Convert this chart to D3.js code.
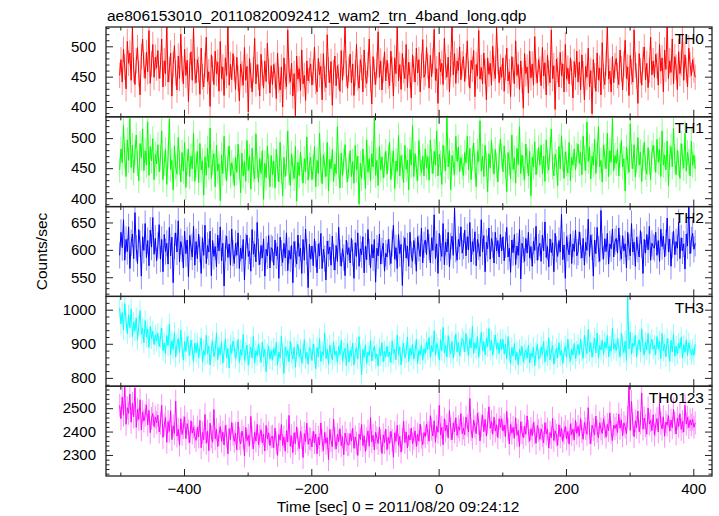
<!DOCTYPE html>
<html><head><meta charset="utf-8">
<script src="https://cdn.jsdelivr.net/npm/d3@7"></script>
<style>
body{margin:0;background:#fff}
svg{display:block}
text{font-family:"Liberation Sans",Arial,Helvetica,sans-serif;fill:#000}
.tick text{font-size:15px}
</style>
</head><body>
<svg id="c" width="719" height="516"></svg>
<script>
const title = "ae806153010_20110820092412_wam2_trn_4band_long.qdp";
const xLabel = "Time [sec] 0 = 2011/08/20 09:24:12";
const yLabel = "Counts/sec";
const bandNames = ["TH0", "TH1", "TH2", "TH3", "TH0123"];
const bandColors = ["#ff0000", "#00ff00", "#0000ff", "#00ffff", "#ff00ff"];
const timeStart = -501, timeStep = 2;
const errorSizes = [21, 21, 24, 30, 49];

const th0 = [
452,478,441,495,466,430,508,472,489,444,531,461,437,476,498,455,420,483,512,469,447,490,458,526,439,471,503,449,482,464,
493,447,468,512,433,476,455,539,441,462,489,418,470,501,456,428,484,447,520,463,438,495,452,477,409,468,491,444,530,459,
440,478,462,421,497,450,433,469,515,442,458,401,486,463,437,492,455,474,426,508,447,466,419,481,452,534,436,470,445,488,
463,429,482,447,410,471,455,436,498,444,467,392,480,452,425,461,513,438,470,449,418,487,456,431,476,442,505,459,423,468,
437,470,452,414,489,445,428,466,400,481,450,433,527,459,441,472,418,455,386,484,446,463,427,494,438,452,411,476,443,460,
471,436,458,499,442,425,480,453,467,412,488,446,432,519,461,440,475,403,457,484,435,468,450,426,493,444,472,537,455,431,
462,487,440,471,419,456,503,448,431,478,465,425,494,452,439,470,512,446,405,483,458,437,469,524,449,476,428,461,491,443,
477,451,435,492,462,418,481,455,536,443,470,429,488,460,447,503,432,474,452,415,486,463,441,497,456,478,425,468,511,449,
455,498,467,431,485,450,476,528,444,463,406,490,458,472,437,513,466,449,482,425,470,541,453,488,439,476,460,499,445,471,
483,442,468,509,455,431,477,462,493,417,470,451,526,446,465,438,489,459,412,481,454,472,436,500,463,447,531,475,440,466,
449,481,426,465,497,443,458,417,483,461,438,509,452,470,429,476,444,398,488,455,466,423,492,448,471,436,516,459,440,478,
462,435,498,451,473,420,485,456,440,527,447,468,396,479,461,433,490,452,471,425,503,446,464,438,481,457,415,475,449,492,
441,474,428,486,455,412,467,449,497,433,460,389,478,452,426,489,445,464,420,506,451,437,472,534,446,459,425,483,440,468,
480,452,437,494,463,428,471,510,447,466,419,485,458,441,527,469,451,406,488,460,436,478,499,445,472,432,461,515,453,476,
449,487,468,436,503,459,481,425,494,462,540,447,476,457,512,438,483,466,429,491,455,472,520,444,486,461,433,497,470,452,
478,461,449];

const th1 = [
447,482,459,521,470,436,497,463,533,451,488,442,476,505,458,429,491,467,515,446,479,455,527,438,486,462,499,431,473,457,
489,444,467,512,431,458,481,423,470,532,448,463,414,487,452,440,501,459,427,476,445,493,418,461,482,436,470,449,508,428,
455,478,426,491,447,462,405,469,438,483,451,517,433,460,474,419,488,445,457,396,472,441,503,452,429,466,487,437,459,446,
421,468,443,490,452,409,475,437,461,428,496,446,470,415,483,448,432,507,455,426,466,441,479,398,458,434,487,452,419,471,
439,462,417,481,450,427,493,445,404,468,436,459,512,443,421,474,451,433,486,395,460,438,477,449,425,466,444,502,430,455,
468,431,452,486,419,463,441,508,447,424,472,455,436,493,412,465,449,481,428,457,441,519,453,417,475,438,462,489,446,427,
454,479,436,461,425,488,447,470,390,458,433,482,451,416,497,443,466,429,474,452,533,438,463,421,486,447,469,434,455,478,
440,467,493,431,458,479,416,462,445,505,437,471,452,426,488,448,463,414,481,455,521,436,474,449,429,496,458,443,470,437,
482,451,469,430,497,462,441,478,455,512,437,473,459,423,488,466,446,535,452,479,414,471,458,439,503,461,485,444,468,452,
438,476,459,503,447,483,431,466,492,454,419,478,461,529,445,470,436,488,457,411,474,450,496,463,440,481,455,427,469,498,
470,444,487,453,411,476,459,432,505,448,467,425,483,456,519,441,472,450,431,490,462,437,478,404,468,452,494,439,461,484,
455,488,441,470,428,497,462,447,481,515,452,437,473,460,421,486,449,504,466,433,477,458,442,493,429,468,455,482,447,472,
490,458,476,439,503,467,446,527,461,485,432,470,455,498,441,474,519,452,463,427,488,470,449,508,436,479,460,533,446,471,
458,482,437,471,496,452,466,412,485,461,443,524,470,449,489,435,462,501,455,477,428,468,493,451,440,484,460,431,475,488,
467,443,498,460,481,436,512,455,472,447,495,421,468,486,452,516,463,439,480,458,433,491,469,450,508,445,476,461,437,495,
455,472,449];

const th2 = [
590,632,604,655,581,619,597,642,566,613,629,584,668,603,575,637,611,552,624,599,648,586,617,571,636,605,659,592,621,580,
608,646,583,619,560,628,597,612,574,641,589,623,540,607,631,596,653,578,615,602,567,634,593,618,551,626,605,587,643,572,
615,584,629,601,557,622,590,645,575,608,596,634,553,617,588,606,569,627,598,642,580,612,534,603,625,586,611,572,638,594,
575,612,590,631,566,603,584,619,545,606,627,588,598,561,637,592,611,578,650,596,573,608,585,620,552,601,589,626,567,604,
601,572,618,589,606,548,623,594,577,612,585,631,562,599,583,608,540,615,592,574,627,588,603,557,619,581,638,596,531,610,
583,607,571,620,592,558,611,589,630,566,601,584,545,616,593,605,572,625,587,563,608,579,641,595,570,602,586,553,618,591,
604,576,621,595,548,613,588,631,570,602,591,624,558,607,582,637,596,567,610,585,619,541,603,589,629,574,598,612,561,594,
587,619,596,575,612,645,583,604,566,628,593,610,535,601,622,585,607,570,632,591,579,617,598,561,624,603,588,640,576,609,
618,591,637,605,576,622,599,664,584,611,557,630,603,588,648,573,614,596,632,569,607,625,590,676,601,581,619,606,642,594,
607,636,589,624,600,650,578,615,597,633,571,619,605,588,655,596,626,560,614,602,640,583,621,609,576,632,598,617,587,628,
598,624,580,609,641,587,603,559,618,595,628,573,607,590,637,547,612,600,579,621,594,632,585,606,570,616,599,643,581,605,
612,579,627,598,651,586,606,569,620,595,613,560,630,601,588,617,596,665,582,609,548,624,603,591,629,575,611,597,636,589,
596,633,608,585,621,572,614,599,656,588,627,605,552,618,593,641,601,579,672,606,583,620,597,630,574,611,602,638,587,615,
621,594,640,603,583,626,598,611,567,632,605,589,648,596,614,570,623,601,587,635,609,557,619,594,628,600,643,581,612,606,
603,632,590,617,579,638,606,625,587,613,658,596,620,570,609,634,591,615,603,650,584,622,598,611,565,629,607,679,593,618,
630,601,612];

const th3 = [
1005,958,992,941,1018,966,930,985,947,1002,921,963,938,976,912,954,997,928,945,903,968,920,943,889,951,915,937,898,926,908,
931,892,917,946,880,903,871,924,895,958,868,909,884,933,861,898,915,874,940,889,852,906,878,921,894,866,911,883,848,902,
874,903,858,889,917,846,881,866,925,871,893,838,884,907,862,879,931,853,890,868,906,843,877,914,860,886,829,897,872,908,
889,857,878,912,845,883,866,927,851,875,896,837,869,890,858,921,843,880,864,899,873,846,905,862,884,818,871,893,855,880,
852,887,865,904,839,876,858,922,870,813,891,864,880,847,908,872,855,890,831,878,898,861,884,843,869,912,856,875,840,889,
884,851,899,870,827,889,862,915,848,877,866,931,857,884,840,896,871,853,905,866,879,845,892,868,910,850,874,887,836,901,
846,881,863,902,838,874,889,855,921,868,809,883,860,897,842,876,865,911,850,879,892,857,870,834,888,864,903,847,878,861,
893,862,876,845,909,870,884,853,926,867,891,838,880,902,859,874,920,848,887,866,899,855,877,913,842,881,868,895,852,886,
871,905,883,919,860,895,877,938,866,901,887,852,912,880,948,873,896,861,924,889,870,907,858,893,929,876,904,865,891,915,
907,876,930,894,866,915,888,951,872,903,885,921,860,898,934,879,906,868,917,892,945,881,910,867,897,926,884,903,871,912,
884,913,870,899,856,921,878,842,889,864,901,852,875,838,884,866,892,847,870,882,858,896,844,873,861,889,835,876,898,855,
858,892,869,907,846,880,864,918,853,876,895,840,871,886,859,903,866,881,842,875,893,860,914,872,849,884,867,901,856,879,
898,868,914,880,857,925,889,871,942,877,903,861,890,917,873,931,858,896,882,910,869,905,887,924,862,893,878,946,884,901,
879,915,888,862,931,896,874,908,851,1040,885,934,870,902,893,926,861,897,912,876,944,889,867,905,882,930,871,898,913,884,
895,868,921,884,907,856,930,879,899,862,915,887,848,910,876,928,864,893,871,902,886,919,858,897,875,912,866,903,881,868,
884,866,899];

const th0123 = [
2512,2455,2548,2470,2596,2431,2502,2478,2560,2440,2521,2463,2587,2418,2495,2452,2536,2407,2484,2445,2470,2513,2428,2491,2395,2456,2477,2421,2462,2438,
2470,2398,2436,2512,2375,2428,2461,2354,2443,2401,2489,2366,2425,2392,2530,2381,2410,2342,2455,2388,2417,2463,2370,2434,2402,2351,2446,2393,2420,2379,
2362,2419,2377,2448,2331,2396,2365,2473,2350,2402,2318,2436,2378,2355,2494,2369,2410,2336,2387,2421,2359,2398,2342,2427,2381,2305,2412,2366,2439,2388,
2358,2393,2322,2441,2370,2347,2402,2375,2296,2418,2361,2384,2339,2465,2372,2326,2397,2359,2431,2344,2380,2408,2351,2389,2317,2426,2368,2395,2340,2377,
2380,2331,2415,2352,2298,2388,2363,2430,2341,2377,2316,2404,2356,2469,2337,2382,2310,2395,2349,2420,2365,2327,2401,2374,2289,2391,2358,2436,2346,2370,
2367,2334,2401,2352,2389,2305,2376,2343,2437,2361,2318,2396,2350,2374,2280,2409,2362,2335,2453,2371,2326,2388,2357,2412,2339,2378,2301,2394,2364,2345,
2343,2392,2359,2414,2328,2377,2351,2298,2389,2366,2431,2340,2382,2315,2368,2403,2337,2460,2356,2384,2321,2397,2372,2349,2418,2362,2306,2386,2353,2410,
2322,2376,2349,2401,2362,2290,2395,2358,2427,2341,2380,2312,2367,2444,2353,2398,2330,2385,2364,2415,2347,2372,2403,2336,2389,2359,2432,2375,2344,2396,
2378,2432,2395,2359,2468,2410,2381,2446,2354,2423,2397,2512,2386,2418,2344,2455,2402,2428,2373,2490,2412,2365,2437,2399,2459,2383,2421,2406,2477,2391,
2415,2386,2462,2427,2398,2541,2408,2373,2449,2420,2391,2478,2435,2360,2426,2470,2399,2452,2381,2437,2506,2414,2443,2388,2461,2402,2429,2374,2455,2418,
2455,2402,2428,2379,2486,2410,2347,2431,2393,2418,2372,2459,2384,2405,2336,2442,2396,2374,2423,2388,2467,2401,2359,2413,2382,2439,2395,2350,2426,2404,
2367,2411,2384,2352,2438,2390,2411,2329,2396,2374,2457,2362,2403,2385,2341,2429,2378,2414,2358,2395,2422,2369,2401,2346,2433,2387,2410,2365,2448,2392,
2422,2381,2456,2400,2367,2439,2412,2388,2502,2395,2348,2427,2409,2385,2466,2401,2373,2438,2411,2392,2455,2419,2376,2431,2404,2480,2397,2362,2428,2413,
2431,2396,2475,2414,2450,2382,2437,2420,2391,2462,2594,2405,2529,2432,2378,2446,2417,2488,2399,2437,2565,2410,2458,2426,2389,2501,2432,2447,2404,2472,
2385,2429,2456,2398,2520,2435,2411,2463,2380,2441,2427,2468,2402,2449,2416,2495,2437,2390,2458,2421,2476,2409,2443,2398,2512,2432,2461,2417,2450,2428,
2452,2418,2437];

const yDomains = [[383.9, 531.8], [386, 535.5], [515, 679], [775.6, 1039], [2210, 2594]];
const yMajorTicks = [[400, 450, 500], [400, 450, 500], [550, 600, 650], [800, 900, 1000], [2300, 2400, 2500]];
const yMinorSteps = [10, 10, 10, 20, 20];
const xDomain = [-522.5, 429.4];
const xMajorTicks = [-400, -200, 0, 200, 400];
const xMinorTicks = [-500, -300, -100, 100, 300];

const series = [th0, th1, th2, th3, th0123];

const svg = d3.select("#c");
const L = 106, R = 712, T = 27, B = 476;
const ph = (B - T) / series.length;
const x = d3.scaleLinear().domain(xDomain).range([L, R]);
const frameColor = "#222";
const fmtY = d3.format("d");

function styleAxis(g) {
  g.attr("font-size", null).attr("font-family", null);
  g.select(".domain").remove();
  g.selectAll(".tick line").attr("stroke", frameColor).attr("stroke-width", 1);
}

series.forEach((vals, k) => {
  const top = T + k * ph, bot = top + ph;
  const y = d3.scaleLinear().domain(yDomains[k]).range([bot, top]);
  const cid = "clip" + k;
  svg.append("clipPath").attr("id", cid)
    .append("rect").attr("x", L).attr("y", top).attr("width", R - L).attr("height", ph);

  const times = vals.map((v, i) => timeStart + i * timeStep);
  const pts = vals.map((v, i) => ({t: times[i], v}));
  const gData = svg.append("g").attr("clip-path", `url(#${cid})`);
  const err = errorSizes[k];
  gData.selectAll("line.err").data(pts).join("line")
    .attr("class", "err")
    .attr("x1", d => x(d.t)).attr("x2", d => x(d.t))
    .attr("y1", d => y(d.v - err)).attr("y2", d => y(d.v + err))
    .attr("stroke", bandColors[k]).attr("stroke-opacity", 0.45).attr("stroke-width", 1);
  const line = d3.line().x(d => x(d.t)).y(d => y(d.v));
  gData.append("path").datum(pts)
    .attr("fill", "none")
    .attr("stroke", bandColors[k])
    .attr("stroke-width", 1)
    .attr("d", line);

  const st = yMinorSteps[k];
  const minorY = d3.range(Math.ceil(yDomains[k][0] / st) * st, yDomains[k][1], st)
    .filter(v => !yMajorTicks[k].includes(v));

  svg.append("g").attr("transform", `translate(${L},0)`)
    .call(d3.axisLeft(y).tickValues(yMajorTicks[k]).tickSize(-7).tickSizeOuter(0).tickPadding(10).tickFormat(fmtY))
    .call(styleAxis);
  svg.append("g").attr("transform", `translate(${L},0)`)
    .call(d3.axisLeft(y).tickValues(minorY).tickSize(-3.5).tickFormat(""))
    .call(styleAxis);
  svg.append("g").attr("transform", `translate(${R},0)`)
    .call(d3.axisRight(y).tickValues(yMajorTicks[k]).tickSize(-7).tickFormat(""))
    .call(styleAxis);
  svg.append("g").attr("transform", `translate(${R},0)`)
    .call(d3.axisRight(y).tickValues(minorY).tickSize(-3.5).tickFormat(""))
    .call(styleAxis);

  svg.append("g").attr("transform", `translate(0,${top})`)
    .call(d3.axisTop(x).tickValues(xMajorTicks).tickSize(-7).tickFormat(""))
    .call(styleAxis);
  svg.append("g").attr("transform", `translate(0,${top})`)
    .call(d3.axisTop(x).tickValues(xMinorTicks).tickSize(-3.5).tickFormat(""))
    .call(styleAxis);
  const isLast = k === series.length - 1;
  svg.append("g").attr("transform", `translate(0,${bot})`)
    .call(d3.axisBottom(x).tickValues(xMajorTicks).tickSize(-7).tickPadding(7)
      .tickFormat(isLast ? (d => d < 0 ? "\u2212" + Math.abs(d) : String(d)) : ""))
    .call(styleAxis);
  svg.append("g").attr("transform", `translate(0,${bot})`)
    .call(d3.axisBottom(x).tickValues(xMinorTicks).tickSize(-3.5).tickFormat(""))
    .call(styleAxis);

  svg.append("rect").attr("x", L).attr("y", top).attr("width", R - L).attr("height", ph)
    .attr("fill", "none").attr("stroke", frameColor).attr("stroke-width", 1.3);

  svg.append("text").attr("x", 704).attr("y", top + 16.5)
    .attr("text-anchor", "end").attr("font-size", "15.5px").text(bandNames[k]);
});

svg.append("text").attr("x", 107).attr("y", 20.5).attr("font-size", "15.5px").text(title);
svg.append("text").attr("x", 398).attr("y", 512).attr("text-anchor", "middle")
  .attr("font-size", "15.5px").text(xLabel);
svg.append("text").attr("transform", `translate(46.5,${(T + B) / 2}) rotate(-90)`)
  .attr("text-anchor", "middle").attr("font-size", "15.5px").text(yLabel);
</script>
</body></html>
